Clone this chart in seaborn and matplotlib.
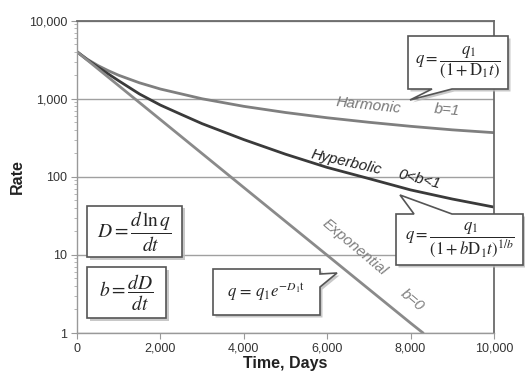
import numpy as np
import pandas as pd
import matplotlib
matplotlib.use("Agg")
import matplotlib.pyplot as plt
from matplotlib.patches import Polygon
import seaborn as sns

# ---- data ----
t_harm = [0, 250, 500, 750, 1000, 1500, 2000, 3000, 4000, 5000, 6000, 7000, 8000, 9000, 10000]
q_harm = [4000, 3200, 2667, 2290, 2000, 1600, 1333, 1000, 800, 667, 571, 500, 444, 400, 368]

t_hyp = [0, 250, 500, 750, 1000, 1500, 2000, 2500, 3000, 4000, 5000, 6000, 7000, 8000, 9000, 10000]
q_hyp = [4000, 3150, 2550, 2080, 1700, 1150, 830, 630, 480, 300, 195, 132, 95, 68, 52, 41]

t_exp = [0, 2000, 4000, 6000, 8000, 8300]
q_exp = [4000, 541, 73, 9.9, 1.34, 1.0]

x_ticks = [0, 2000, 4000, 6000, 8000, 10000]
x_tick_labels = ["0", "2,000", "4,000", "6,000", "8,000", "10,000"]
y_ticks = [1, 10, 100, 1000, 10000]
y_tick_labels = ["1", "10", "100", "1,000", "10,000"]

sns.set_style("white")
plt.rcParams["font.family"] = ["Liberation Sans", "DejaVu Sans"]
plt.rcParams["mathtext.fontset"] = "stix"

W, H = 525, 377
fig = plt.figure(figsize=(W / 100, H / 100), dpi=100)
L, R, T, B = 77, 494, 20.7, 333
ax = fig.add_axes([L / W, 1 - B / H, (R - L) / W, (B - T) / H])

sns.lineplot(x=t_harm, y=q_harm, ax=ax, color="#7f7f7f", lw=2.0)
sns.lineplot(x=t_hyp, y=q_hyp, ax=ax, color="#3a3a3a", lw=2.0)
sns.lineplot(x=t_exp, y=q_exp, ax=ax, color="#8a8a8a", lw=2.0)

ax.set_yscale("log")
ax.set_xlim(0, 10000)
ax.set_ylim(1, 10000)
ax.set_xticks(x_ticks)
ax.set_xticklabels(x_tick_labels)
ax.set_yticks(y_ticks)
ax.set_yticklabels(y_tick_labels)
ax.yaxis.set_minor_locator(matplotlib.ticker.LogLocator(base=10, subs=np.arange(2, 10)))
ax.yaxis.set_minor_formatter(matplotlib.ticker.NullFormatter())
ax.tick_params(axis="both", which="major", direction="out", length=4, color="#999999",
               labelsize=9, labelcolor="#333333", pad=3)
ax.tick_params(axis="y", which="minor", direction="out", length=2.5, color="#aaaaaa", left=True)
ax.tick_params(axis="x", bottom=True)
ax.tick_params(axis="y", left=True)
ax.grid(axis="y", which="major", color="#a0a0a0", lw=1.0)
ax.grid(axis="x", visible=False)
for s in ["left", "bottom"]:
    ax.spines[s].set_color("#999999")
    ax.spines[s].set_linewidth(1.0)
for s in ["top", "right"]:
    ax.spines[s].set_color("#6a6a6a")
    ax.spines[s].set_linewidth(1.3)

ax.set_xlabel("Time, Days", fontsize=11.5, fontweight="bold", color="#222222", labelpad=1)
ax.set_ylabel("Rate", fontsize=11.5, fontweight="bold", color="#222222", labelpad=3)

# curve labels
lab = 11
ax.text(7000, 830, "Harmonic", style="italic", color="#777777", fontsize=lab,
        rotation=-6, ha="center", va="center")
ax.text(8870, 720, "b=1", style="italic", color="#777777", fontsize=lab,
        rotation=-5, ha="center", va="center")
ax.text(6450, 155, "Hyperbolic", style="italic", color="#222222", fontsize=lab,
        rotation=-13, ha="center", va="center")
ax.text(8200, 94, "0<b<1", style="italic", color="#222222", fontsize=lab,
        rotation=-14, ha="center", va="center")
ax.text(6650, 12.5, "Exponential", style="italic", color="#808080", fontsize=lab,
        rotation=-40, ha="center", va="center")
ax.text(8050, 2.6, "b=0", style="italic", color="#808080", fontsize=lab,
        rotation=-40, ha="center", va="center")


def px(x, y):
    return (x / W, 1 - y / H)


def callout(points, zorder=5):
    shadow = [px(x + 2.5, y + 2.5) for x, y in points]
    fig.add_artist(Polygon(shadow, closed=True, transform=fig.transFigure,
                           facecolor="#bbbbbb", edgecolor="none", zorder=zorder, alpha=0.8))
    main = [px(x, y) for x, y in points]
    fig.add_artist(Polygon(main, closed=True, transform=fig.transFigure,
                           facecolor="white", edgecolor="#555555", lw=1.2, zorder=zorder + 0.1))


# D box
callout([(87, 206), (182, 206), (182, 257), (87, 257)])
fig.text(134.5 / W, 1 - 231.5 / H, r"$D = \dfrac{d\,\ln q}{dt}$", fontsize=14,
         ha="center", va="center", zorder=7)
# b box
callout([(87, 267), (166, 267), (166, 318), (87, 318)])
fig.text(126.5 / W, 1 - 292.5 / H, r"$b = \dfrac{dD}{dt}$", fontsize=14,
         ha="center", va="center", zorder=7)
# exponential box
callout([(213, 269), (320, 269), (320, 274), (337, 273), (320, 287), (320, 315), (213, 315)])
fig.text(266.5 / W, 1 - 292 / H, r"$q\,=\,q_1 e^{-D_1 \mathrm{t}}$", fontsize=12,
         ha="center", va="center", zorder=7)
# harmonic box
callout([(408, 36), (508, 36), (508, 89), (452, 89), (410, 100), (432, 89), (408, 89)])
fig.text(458 / W, 1 - 62.5 / H, r"$q = \dfrac{q_1}{(1 + \mathrm{D_1} t)}$", fontsize=12,
         ha="center", va="center", zorder=7)
# hyperbolic box
callout([(396, 214), (414, 214), (400, 195), (452, 214), (523, 214), (523, 265), (396, 265)])
fig.text(459.5 / W, 1 - 240 / H, r"$q = \dfrac{q_1}{(1 + b\mathrm{D_1} t)^{1/b}}$", fontsize=12,
         ha="center", va="center", zorder=7)

fig.savefig("out.png", dpi=100)
